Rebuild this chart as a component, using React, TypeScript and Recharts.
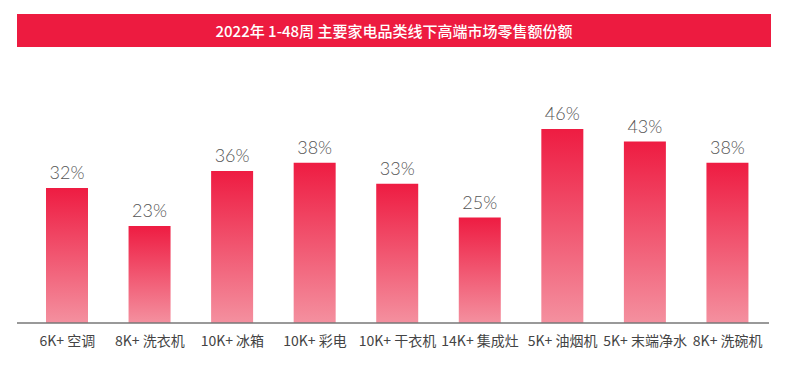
import React from 'react';
import { BarChart, Bar, XAxis, YAxis, LabelList } from 'recharts';

const categories = ['6K+ 空调', '8K+ 洗衣机', '10K+ 冰箱', '10K+ 彩电', '10K+ 干衣机', '14K+ 集成灶', '5K+ 油烟机', '5K+ 末端净水', '8K+ 洗碗机'];
const shares = [32, 23, 36, 38, 33, 25, 46, 43, 38];
const title = '2022年 1-48周 主要家电品类线下高端市场零售额份额';

const data = categories.map((name, i) => ({ name, value: shares[i] }));

export default function App() {
  return (
    <div style={{ position: 'absolute', left: 0, top: 0, width: 788, height: 372, background: '#fff' }}>
      <div
        style={{
          position: 'absolute',
          left: 17,
          top: 14,
          width: 754,
          height: 33,
          background: '#ED1B40',
          color: '#fff',
          fontFamily: '"Noto Sans CJK SC", "Noto Sans", sans-serif',
          fontSize: 15,
          fontWeight: 500,
          display: 'flex',
          alignItems: 'center',
          justifyContent: 'center',
        }}
      >
        {title}
      </div>
      <div style={{ position: 'absolute', left: 0, top: 0 }}>
        <BarChart width={788} height={372} data={data} margin={{ top: 112, left: 17, right: 19, bottom: 19 }} barSize={42}>
          <defs>
            <linearGradient id="barGrad" x1="0" y1="0" x2="0" y2="1">
              <stop offset="0%" stopColor="#EE1C42" />
              <stop offset="100%" stopColor="#F4909F" />
            </linearGradient>
          </defs>
          <XAxis
            dataKey="name"
            height={30}
            padding={{ left: 9, right: 0 }}
            tickLine={false}
            axisLine={{ stroke: '#777', strokeWidth: 1.5 }}
            tickMargin={7}
            interval={0}
            tick={{ fill: '#444', fontSize: 14, fontFamily: '"Noto Sans CJK SC", "Noto Sans", sans-serif' }}
          />
          <YAxis hide domain={[0, 50]} />
          <Bar dataKey="value" fill="url(#barGrad)" isAnimationActive={false}>
            <LabelList
              dataKey="value"
              position="top"
              offset={9}
              formatter={(v: number) => `${v}%`}
              style={{ fill: '#555', fontSize: 18, fontFamily: 'Lato, sans-serif', fontWeight: 300 }}
            />
          </Bar>
        </BarChart>
      </div>
    </div>
  );
}
